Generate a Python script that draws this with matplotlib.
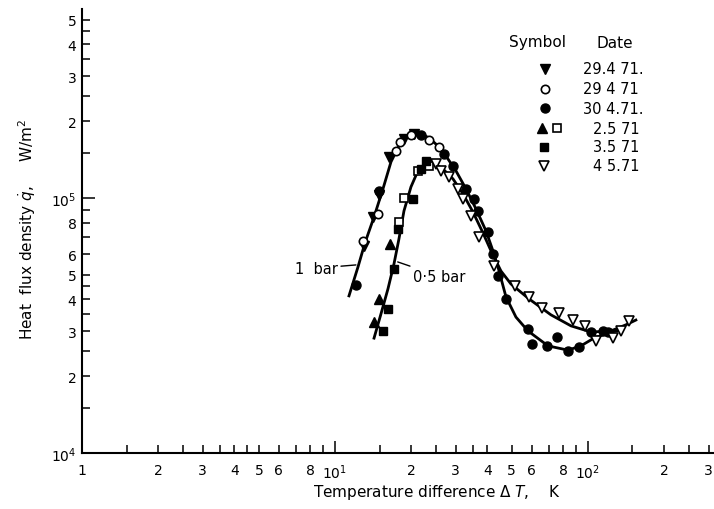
import matplotlib
matplotlib.use("Agg")
import matplotlib.pyplot as plt

# smooth curves drawn through the data
bar1_dt = [11.36, 12.33, 13.14, 14.27, 15.48, 16.65, 17.9, 19.08, 20.5, 21.88, 23.52, 25.5,
           27.46, 30.08, 32.95, 36.08, 39.54, 42.12, 44.09, 47.43, 51.93, 57.92, 69.5,
           83.4, 93.8, 105.6, 123.3, 135]
bar1_q = [4.13e4, 5.36e4, 6.66e4, 8.42e4, 1.085e5, 1.384e5, 1.6e5, 1.719e5, 1.78e5, 1.78e5,
          1.72e5, 1.6e5, 1.46e5, 1.276e5, 1.085e5, 9.06e4, 7.42e4, 6.2e4, 5.36e4, 4.09e4,
          3.41e4, 3.01e4, 2.63e4, 2.53e4, 2.63e4, 2.82e4, 2.98e4, 3.03e4]
bar05_dt = [14.27, 15.2, 16.2, 17.11, 17.9, 18.74, 19.97, 21.28, 22.7, 24.4, 26.7, 29.27,
            32.07, 35.1, 38.46, 41.38, 45.3, 49.6, 58.45, 71.4, 85.7, 102.8, 123.3, 141.3, 154.7]
bar05_q = [2.82e4, 3.51e4, 4.4e4, 5.51e4, 6.9e4, 8.89e4, 1.104e5, 1.276e5, 1.36e5, 1.372e5,
           1.299e5, 1.187e5, 1.037e5, 8.81e4, 7.29e4, 6.2e4, 5.17e4, 4.6e4, 4.02e4, 3.48e4,
           3.15e4, 2.98e4, 3.01e4, 3.18e4, 3.32e4]

# measured points, one set per date
d2904a_dt = [13.02, 14.13, 14.93, 16.35, 18.74, 20.5]
d2904a_q = [6.48e4, 8.42e4, 1.027e5, 1.448e5, 1.704e5, 1.78e5]
d2904b_dt = [12.9, 14.79, 17.42, 18.07, 19.97, 23.52, 25.77]
d2904b_q = [6.78e4, 8.66e4, 1.529e5, 1.658e5, 1.766e5, 1.689e5, 1.585e5]
d3004_dt = [12.1, 14.93, 21.88, 26.97, 29.27, 32.95, 35.43, 36.75, 40.26, 42.12, 44.09,
            47.43, 57.92, 60.07, 68.85, 75.4, 83.4, 92.1, 102.8, 114.6, 120]
d3004_q = [4.56e4, 1.065e5, 1.766e5, 1.488e5, 1.335e5, 1.085e5, 9.91e4, 8.89e4, 7.36e4,
           6.03e4, 4.94e4, 4.02e4, 3.06e4, 2.68e4, 2.63e4, 2.85e4, 2.51e4, 2.6e4, 2.98e4,
           3.01e4, 2.98e4]
d0205t_dt = [14.27, 14.93, 16.5]
d0205t_q = [3.26e4, 4.02e4, 6.6e4]
d0205s_dt = [17.9, 18.74, 21.28, 23.52]
d0205s_q = [8.05e4, 1.0e5, 1.276e5, 1.335e5]
d0305_dt = [15.48, 16.2, 17.11, 17.74, 20.34, 21.88, 22.89]
d0305_q = [3.01e4, 3.67e4, 5.27e4, 7.56e4, 9.91e4, 1.299e5, 1.397e5]
d0405_dt = [25.07, 26.24, 28.22, 30.64, 32.07, 34.48, 37.09, 42.51, 51.46, 58.45, 65.8,
            76.8, 87.2, 97.3, 107.6, 125.6, 135, 145.2]
d0405_q = [1.36e5, 1.276e5, 1.209e5, 1.085e5, 9.91e4, 8.5e4, 7.03e4, 5.41e4, 4.52e4,
           4.09e4, 3.7e4, 3.54e4, 3.32e4, 3.15e4, 2.75e4, 2.82e4, 3.01e4, 3.29e4]

dates = ["29.4 71.", "29 4 71", "30 4.71.", "2.5 71", "3.5 71", "4 5.71"]

W, H = 714, 510
fig = plt.figure(figsize=(W / 100, H / 100), dpi=100)
ax = fig.add_axes([82 / W, 1 - 454 / H, 632 / W, 444 / H])
ax.set_xscale('log')
ax.set_yscale('log')
ax.set_xlim(1, 315)
ax.set_ylim(1e4, 5.5e5)

ax.plot(bar1_dt, bar1_q, color='black', linewidth=2.0, zorder=2)
ax.plot(bar05_dt, bar05_q, color='black', linewidth=2.0, zorder=2)

ms = 6.5
ax.plot(d2904a_dt, d2904a_q, 'v', color='black', ms=ms, zorder=3)
ax.plot(d2904b_dt, d2904b_q, 'o', mfc='white', mec='black', mew=1.2, ms=ms - 0.5, zorder=3)
ax.plot(d3004_dt, d3004_q, 'o', color='black', ms=ms, zorder=3)
ax.plot(d0205t_dt, d0205t_q, '^', color='black', ms=ms, zorder=3)
ax.plot(d0205s_dt, d0205s_q, 's', mfc='white', mec='black', mew=1.2, ms=ms - 0.5, zorder=3)
ax.plot(d0305_dt, d0305_q, 's', color='black', ms=ms - 0.5, zorder=3)
ax.plot(d0405_dt, d0405_q, 'v', mfc='white', mec='black', mew=1.2, ms=ms + 0.5, zorder=3)

# curve labels
ax.annotate('1  bar', xy=(12.1, 5.46e4), xytext=(10.3, 5.3e4), fontsize=10.5,
            ha='right', va='center', arrowprops=dict(arrowstyle='-', lw=1.0, shrinkA=0, shrinkB=0))
ax.annotate('0·5 bar', xy=(17.7, 5.61e4), xytext=(20.3, 4.94e4), fontsize=10.5,
            ha='left', va='center', arrowprops=dict(arrowstyle='-', lw=1.0, shrinkA=0, shrinkB=0))

# axes styling
for s in ['top', 'right']:
    ax.spines[s].set_visible(False)
ax.spines['left'].set_linewidth(1.5)
ax.spines['bottom'].set_linewidth(1.5)

x_major = [1, 10, 100]
x_minor = [1.5, 2, 2.5, 3, 3.5, 4, 4.5, 5, 6, 7, 8, 9,
           15, 20, 25, 30, 35, 40, 50, 60, 70, 80, 90,
           150, 200, 250, 300]
x_minor_lab = ['', '2', '', '3', '', '4', '', '5', '6', '', '8', '',
               '', '2', '', '3', '', '4', '5', '6', '', '8', '',
               '', '2', '', '3']
ax.set_xticks(x_major, ['1', r'10$^{1}$', r'10$^{2}$'])
ax.set_xticks(x_minor, x_minor_lab, minor=True)

y_major = [1e4, 1e5]
y_minor = [1.5e4, 2e4, 2.5e4, 3e4, 3.5e4, 4e4, 4.5e4, 5e4, 6e4, 7e4, 8e4, 9e4,
           1.5e5, 2e5, 2.5e5, 3e5, 3.5e5, 4e5, 4.5e5, 5e5]
y_minor_lab = ['', '2', '', '3', '', '4', '', '5', '6', '', '8', '',
               '', '2', '', '3', '', '4', '', '5']
ax.set_yticks(y_major, [r'10$^{4}$', r'10$^{5}$'])
ax.set_yticks(y_minor, y_minor_lab, minor=True)

ax.tick_params(axis='both', which='both', direction='in', labelsize=10, width=1.1)
ax.tick_params(axis='both', which='major', length=9)
ax.tick_params(axis='both', which='minor', length=6)
ax.tick_params(axis='x', which='both', pad=7)
ax.tick_params(axis='y', which='both', pad=4)

fig.text(27 / W, 1 - 229 / H, r'Heat  flux density $\dot{q}$,     W/m$^2$',
         rotation=90, ha='center', va='center', fontsize=11)
fig.text(437 / W, 1 - 493 / H, r'Temperature difference $\Delta$ $T$,    K',
         ha='center', va='center', fontsize=11)

# symbol table
fig.text(538 / W, 1 - 43 / H, 'Symbol', ha='center', va='center', fontsize=11)
fig.text(615 / W, 1 - 43 / H, 'Date', ha='center', va='center', fontsize=11)
rows_y = [70, 90, 109, 129, 148, 167]
date_x = [583, 583, 583, 593, 593, 593]
for yy, xx, d in zip(rows_y, date_x, dates):
    fig.text(xx / W, 1 - yy / H, d, ha='left', va='center', fontsize=10.5)


def key(px, py, m, **kw):
    fig.lines.append(plt.Line2D([px / W], [1 - py / H], marker=m, linestyle='none',
                                transform=fig.transFigure, **kw))


key(545, 70, 'v', color='black', ms=ms)
key(545, 90, 'o', mfc='white', mec='black', mew=1.2, ms=ms - 0.5)
key(545, 109, 'o', color='black', ms=ms)
key(542, 129, '^', color='black', ms=ms)
key(557, 129, 's', mfc='white', mec='black', mew=1.2, ms=ms - 0.5)
key(544, 148, 's', color='black', ms=ms - 0.5)
key(544, 167, 'v', mfc='white', mec='black', mew=1.2, ms=ms + 0.5)

fig.savefig('out.png', dpi=100)
